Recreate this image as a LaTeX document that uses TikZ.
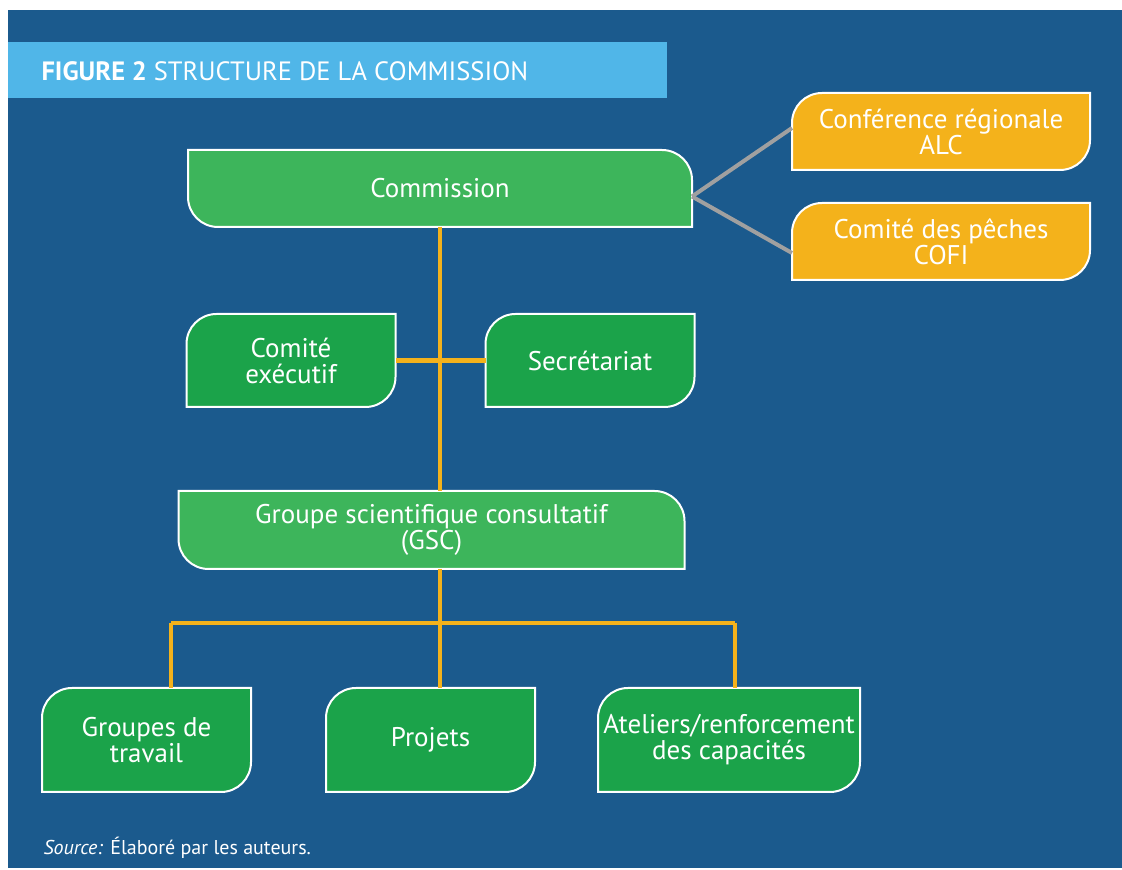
\documentclass[tikz,border=0pt]{standalone}
\usepackage{fontspec}
\setmainfont{PT Sans}
\usetikzlibrary{backgrounds}
\definecolor{bgblue}{HTML}{1B5A8D}
\definecolor{titleblue}{HTML}{50B6E8}
\definecolor{lightgreen}{HTML}{3DB55B}
\definecolor{darkgreen}{HTML}{1BA34A}
\definecolor{boxorange}{HTML}{F4B21B}
\definecolor{linegrey}{HTML}{A0A0A0}
\newlength{\cornerrad}\setlength{\cornerrad}{30pt}
% top right and bottom left corners rounded
\newcommand{\tabright}[2]{\draw[boxline,fill=#2] (#1.north west) -- ([xshift=-\cornerrad]#1.north east) arc[start angle=90,end angle=0,radius=\cornerrad] -- (#1.south east) -- ([xshift=\cornerrad]#1.south west) arc[start angle=270,end angle=180,radius=\cornerrad] -- cycle;}
% top left and bottom right corners rounded
\newcommand{\tableft}[2]{\draw[boxline,fill=#2] ([yshift=-\cornerrad]#1.north west) arc[start angle=180,end angle=90,radius=\cornerrad] -- (#1.north east) -- ([yshift=\cornerrad]#1.south east) arc[start angle=0,end angle=-90,radius=\cornerrad] -- (#1.south west) -- cycle;}

\begin{document}
\begin{tikzpicture}[x=1pt,y=1pt]%
        \tikzstyle{boxline}=[draw=white,line width=2pt];%%
        \tikzstyle{link}=[draw=boxorange,line width=4.5pt];%%
        \tikzstyle{side}=[draw=linegrey,line width=4pt];%%
        \useasboundingbox (0,0) rectangle (1122,870);
        \begin{pgfonlayer}{background}
            \fill[white] (0,0) rectangle (1122,870);
            \fill[bgblue] (8,2) rectangle (1122,860);
            \fill[titleblue] (8,772) rectangle (667,828);
        \end{pgfonlayer}
        \node[anchor=west,text=white,font=\fontsize{26.5}{30}\selectfont] (title) at (38,799) {\textbf{FIGURE 2} STRUCTURE DE LA COMMISSION}; %%
        \begin{scope}
            \tikzstyle{every node}=[text=white,inner sep=0pt,outer sep=0pt,align=center,font=\fontsize{27}{26}\selectfont];%%
            \node[minimum width=504pt,minimum height=77pt] (comm) at (440,681.5) {Commission}; %%
            \node[minimum width=298pt,minimum height=77pt] (conf) at (941,738.5) {Conférence régionale\\ALC}; %%
            \node[minimum width=298pt,minimum height=77pt] (cofi) at (941,628.5) {Comité des pêches\\COFI}; %%
            \node[minimum width=209pt,minimum height=93pt] (exec) at (291,509.5) {Comité\\exécutif}; %%
            \node[minimum width=209pt,minimum height=93pt] (secr) at (590,509.5) {Secrétariat}; %%
            \node[minimum width=506pt,minimum height=78pt] (gsc) at (431.5,340) {Groupe scientifique consultatif\\(GSC)}; %%
            \node[minimum width=209pt,minimum height=104pt] (grp) at (146.5,130) {Groupes de\\travail}; %%
            \node[minimum width=209pt,minimum height=104pt] (proj) at (430.5,130) {Projets}; %%
            \node[minimum width=262pt,minimum height=104pt] (atel) at (729,130) {Ateliers/renforcement\\des capacités}; %%
        \end{scope}
        \begin{pgfonlayer}{background}
            \tabright{comm}{lightgreen} %%
            \tabright{gsc}{lightgreen} %%
            \tableft{conf}{boxorange} %%
            \tableft{cofi}{boxorange} %%
            \tableft{exec}{darkgreen} %%
            \tableft{secr}{darkgreen} %%
            \tableft{grp}{darkgreen} %%
            \tableft{proj}{darkgreen} %%
            \tableft{atel}{darkgreen} %%
        \end{pgfonlayer}
        \coordinate (barL) at (171,247); %%
        \coordinate (barR) at (735,247); %%
        \draw[side] ([yshift=-8pt]comm.east)--([yshift=3.5pt]conf.west); %%
        \draw[side] ([yshift=-8pt]comm.east)--([yshift=-11.5pt]cofi.west); %%
        \draw[link] (comm.south)--(comm.south |- gsc.north); %%
        \draw[link] (exec.east)--(secr.west); %%
        \draw[link] (comm.south |- gsc.south)--(comm.south |- barL); %%
        \draw[link] (barL)--(barR); %%
        \draw[link] (barL)--(barL |- grp.north); %%
        \draw[link] (comm.south |- barL)--(comm.south |- proj.north); %%
        \draw[link] (barR)--(barR |- atel.north); %%
        \node[anchor=base west,text=white,font=\fontsize{20}{24}\selectfont] (src) at (40,15) {\textit{Source:} Élaboré par les auteurs.}; %%
\end{tikzpicture}
\end{document}
